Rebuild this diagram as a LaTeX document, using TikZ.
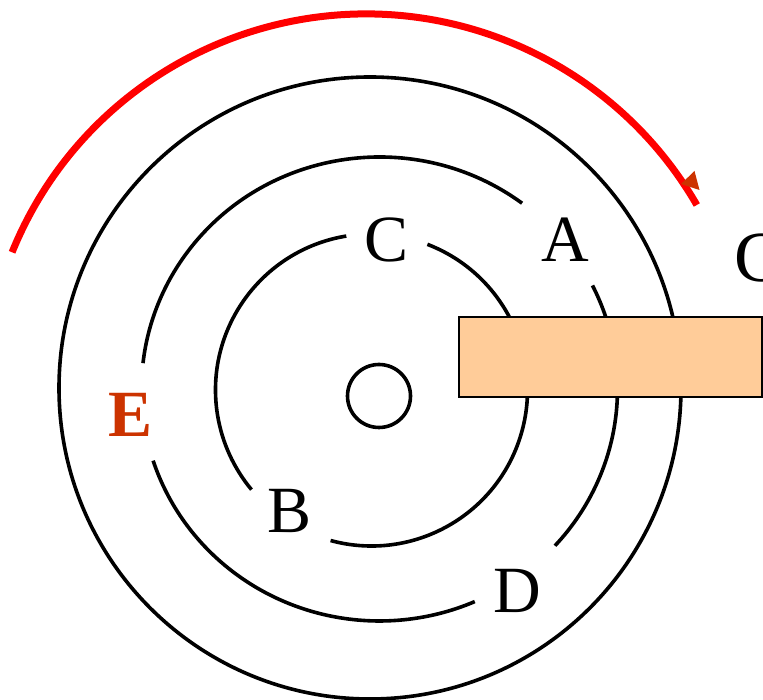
\documentclass[tikz,border=0pt]{standalone}
\usepackage{fontspec}
\setmainfont{Liberation Serif}
\newfontfamily\lblfont{Liberation Serif}
\definecolor{bladefill}{HTML}{FFCC99}
\definecolor{eorange}{HTML}{CC3300}
\begin{document}
\begin{tikzpicture}[x=1pt,y=1pt,
  ring/.style={line width=3.6pt, black},
  lbl/.style={inner sep=0pt, font=\lblfont\fontsize{66}{66}\selectfont},
  flow/.style={line width=7pt, red}]
\useasboundingbox (0,0) rectangle (763,700);
\clip (0,0) rectangle (763,700);
% centres
\coordinate (oout) at (370,312);
\coordinate (omid) at (379.5,311);
\coordinate (oin) at (371.5,310);
\coordinate (ored) at (366,304);
% outer ring
\draw[ring] (oout) circle[radius=311];
% middle ring pieces
\draw[ring] (omid) ++(53.2:238 and 232) arc[start angle=53.2, end angle=173.6, x radius=238, y radius=232];
\draw[ring] (omid) ++(198:238 and 232) arc[start angle=198, end angle=293.6, x radius=238, y radius=232];
\draw[ring] (omid) ++(-42.5:238 and 232) arc[start angle=-42.5, end angle=26.5, x radius=238, y radius=232];
% inner ring pieces
\draw[ring] (oin) ++(99.3:156) arc[start angle=99.3, end angle=219.7, radius=156];
\draw[ring] (oin) ++(254.8:156) arc[start angle=254.8, end angle=429, radius=156];
% hub
\node[draw, circle, line width=3.6pt, minimum size=63pt, inner sep=0pt] (hub) at (379,304) {};
% blade
\node[draw, fill=bladefill, line width=2.4pt, minimum width=303pt, minimum height=80pt, inner sep=0pt] (blade) at (610.5,343) {};
% red rotation arc
\draw[flow] (ored) ++(157.9:382) arc[start angle=157.9, end angle=30, radius=382];
\fill[eorange] (694.5,529) -- (681,516) -- (699.5,510) -- cycle;
% labels
\node[lbl] (lc) at (386.5,460.5) {C};
\node[lbl] (la) at (565,460.5) {A};
\node[lbl, text=eorange, font=\lblfont\fontsize{66}{66}\selectfont\bfseries] (le) at (131,285.5) {E};
\node[lbl] (lb) at (289.5,189) {B};
\node[lbl] (ld) at (517,109) {D};
\node[inner sep=0pt, anchor=west, font=\lblfont\fontsize{72}{72}\selectfont] (lc2) at (734,442) {C};
\end{tikzpicture}
\end{document}
